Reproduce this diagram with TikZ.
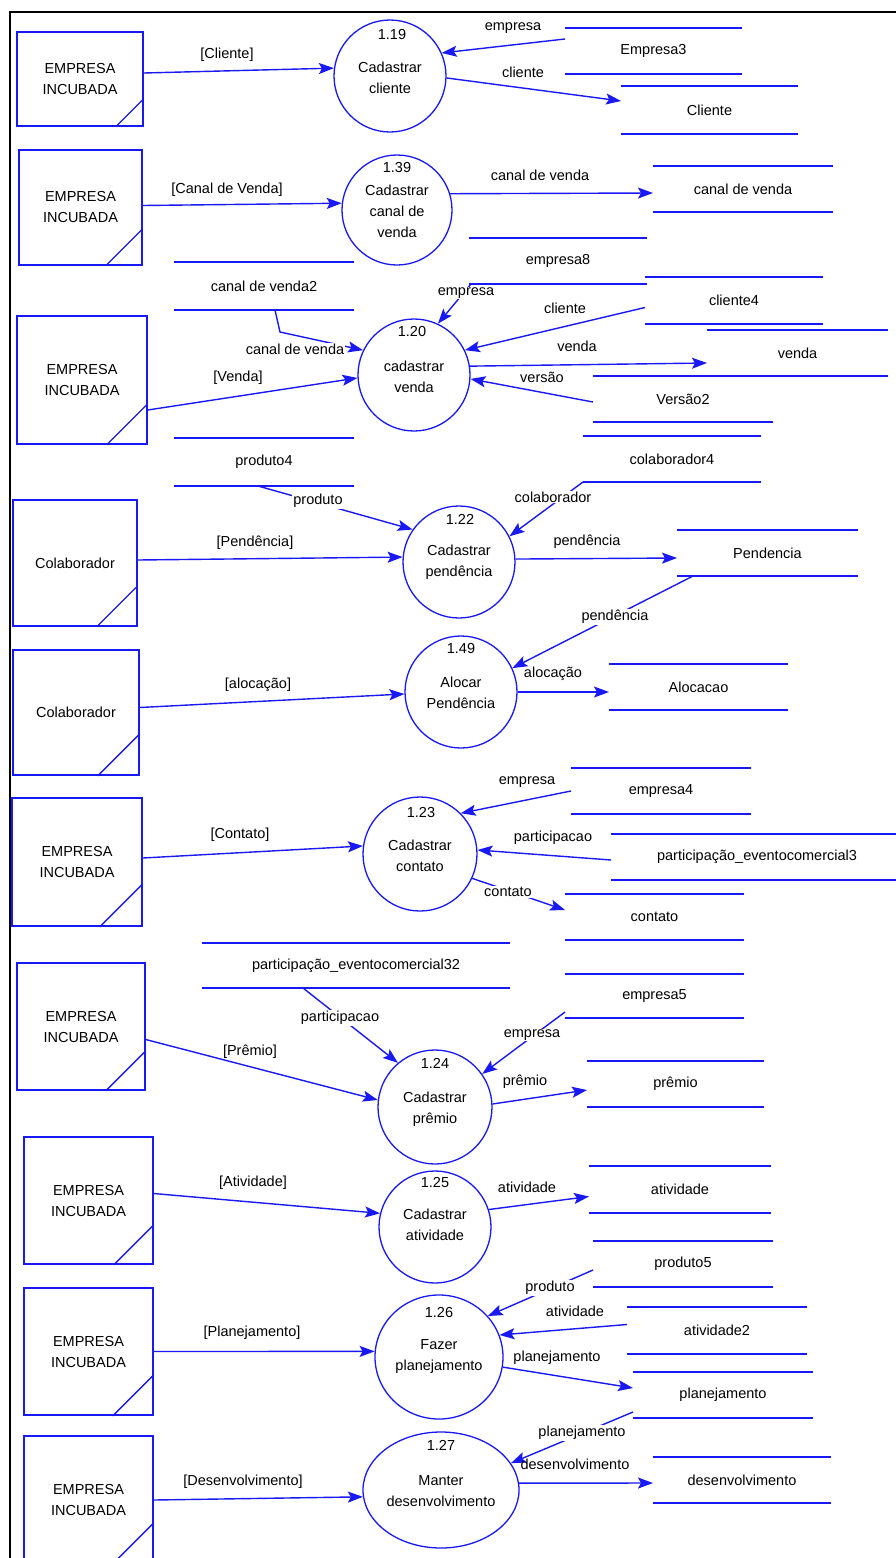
\documentclass[tikz,border=0pt]{standalone}
\usepackage{fontspec}
\setmainfont{Liberation Sans}
\usetikzlibrary{arrows.meta,calc,shapes.geometric}
\definecolor{flowblue}{RGB}{25,25,245}
\begin{document}
\begin{tikzpicture}[x=1pt,y=-1pt,
  every node/.style={font=\fontsize{14.5}{21}\selectfont, inner sep=0pt},
  entity/.style={draw=flowblue, line width=1.5pt, rectangle, align=center},
  process/.style={draw=flowblue, line width=1.3pt, ellipse},
  ptext/.style={align=center},
  store/.style={rectangle, draw=none, outer sep=0pt},
  lbl/.style={inner sep=1pt},
  lblw/.style={lbl, fill=white},
  flow/.style={draw=flowblue, line width=1.4pt, -{Stealth[length=15pt,width=11pt,inset=3pt]}},
  rule/.style={draw=flowblue, line width=1.4pt}]

\useasboundingbox (0,0) rectangle (896,1558);
\fill[white] (0,0) rectangle (896,1558);

% outer frame
\draw[line width=2.5pt] (10,1558) -- (10,12) -- (896,12);

% ---------- external entities ----------
\node[entity, minimum width=126pt, minimum height=94pt]  (e1)  at (80,79)      {EMPRESA\\INCUBADA};
\node[entity, minimum width=123pt, minimum height=115pt] (e2)  at (80.5,207.5) {EMPRESA\\INCUBADA};
\node[entity, minimum width=130pt, minimum height=128pt] (e3)  at (82,380)     {EMPRESA\\INCUBADA};
\node[entity, minimum width=124pt, minimum height=126pt] (e4)  at (75,563)     {Colaborador};
\node[entity, minimum width=126pt, minimum height=125pt] (e5)  at (76,712.5)   {Colaborador};
\node[entity, minimum width=130pt, minimum height=128pt] (e6)  at (77,862)     {EMPRESA\\INCUBADA};
\node[entity, minimum width=128pt, minimum height=127pt] (e7)  at (81,1026.5)  {EMPRESA\\INCUBADA};
\node[entity, minimum width=129pt, minimum height=127pt] (e8)  at (88.5,1200.5){EMPRESA\\INCUBADA};
\node[entity, minimum width=129pt, minimum height=127pt] (e9)  at (88.5,1351.5){EMPRESA\\INCUBADA};
\node[entity, minimum width=129pt, minimum height=128pt] (e10) at (88.5,1500)  {EMPRESA\\INCUBADA};

% corner marks of the entities
\foreach \e/\d in {e1/28,e2/37,e3/41,e4/41,e5/42,e6/43,e7/40,e8/40,e9/41,e10/42}
  \draw[rule] ($(\e.south east)+(0,-\d)$) -- ($(\e.south east)+(-\d,0)$);

% ---------- processes ----------
\node[process, minimum width=112pt, minimum height=112pt] (p119) at (390,76)   {};
\node[process, minimum width=110pt, minimum height=110pt] (p139) at (397,210)  {};
\node[process, minimum width=112pt, minimum height=112pt] (p120) at (414,375)  {};
\node[process, minimum width=112pt, minimum height=112pt] (p122) at (459,562)  {};
\node[process, minimum width=112pt, minimum height=112pt] (p149) at (461,692)  {};
\node[process, minimum width=114pt, minimum height=114pt] (p123) at (420,854)  {};
\node[process, minimum width=114pt, minimum height=114pt] (p124) at (435,1107) {};
\node[process, minimum width=112pt, minimum height=112pt] (p125) at (435,1227) {};
\node[process, minimum width=128pt, minimum height=124pt] (p126) at (439,1357) {};
\node[process, minimum width=156pt, minimum height=116pt] (p127) at (441,1490) {};

\node (p119n) at (392,35)   {1.19};
\node[ptext] (p119t) at (390,77.5)  {Cadastrar\\cliente};
\node (p139n) at (397,168)  {1.39};
\node[ptext] (p139t) at (397,211.5) {Cadastrar\\canal de\\venda};
\node (p120n) at (412,332)  {1.20};
\node[ptext] (p120t) at (414,377)   {cadastrar\\venda};
\node (p122n) at (460,519)  {1.22};
\node[ptext] (p122t) at (459,562.5) {Cadastrar\\pendência};
\node (p149n) at (461,648)  {1.49};
\node[ptext] (p149t) at (461,692.5) {Alocar\\Pendência};
\node (p123n) at (421,812)  {1.23};
\node[ptext] (p123t) at (420,856)   {Cadastrar\\contato};
\node (p124n) at (435,1063) {1.24};
\node[ptext] (p124t) at (435,1109)  {Cadastrar\\prêmio};
\node (p125n) at (435,1182) {1.25};
\node[ptext] (p125t) at (435,1225)  {Cadastrar\\atividade};
\node (p126n) at (439,1312) {1.26};
\node[ptext] (p126t) at (439,1356.5){Fazer\\planejamento};
\node (p127n) at (441,1445) {1.27};
\node[ptext] (p127t) at (441,1491)  {Manter\\desenvolvimento};

% ---------- data stores ----------
\node[store, minimum width=177pt, minimum height=46pt] (s1)  at (653.5,51)    {Empresa3};
\node[store, minimum width=177pt, minimum height=48pt] (s2)  at (709.5,110)   {Cliente};
\node[store, minimum width=180pt, minimum height=46pt] (s3)  at (743,189)     {canal de venda};
\node[store, minimum width=178pt, minimum height=46pt] (s4)  at (558,261)     {empresa8};
\node[store, minimum width=180pt, minimum height=48pt] (s5)  at (264,286)     {canal de venda2};
\node[store, minimum width=178pt, minimum height=47pt] (s6)  at (734,300.5)   {cliente4};
\node[store, minimum width=181pt, minimum height=46pt] (s7)  at (797.5,353)   {venda};
\node[store, minimum width=180pt, minimum height=46pt] (s8)  at (683,399)     {Versão2};
\node[store, minimum width=180pt, minimum height=48pt] (s9)  at (264,462)     {produto4};
\node[store, minimum width=178pt, minimum height=46pt] (s10) at (672,459)     {colaborador4};
\node[store, minimum width=181pt, minimum height=46pt] (s11) at (767.5,553)   {Pendencia};
\node[store, minimum width=179pt, minimum height=46pt] (s12) at (698.5,687)   {Alocacao};
\node[store, minimum width=180pt, minimum height=46pt] (s13) at (661,791)     {empresa4};
\node[store, minimum width=292pt, minimum height=46pt] (s14) at (757,857)     {participação\_eventocomercial3};
\node[store, minimum width=179pt, minimum height=46pt] (s15) at (654.5,917)   {contato};
\node[store, minimum width=308pt, minimum height=45pt] (s16) at (356,965.5)   {participação\_eventocomercial32};
\node[store, minimum width=179pt, minimum height=44pt] (s17) at (654.5,996)   {empresa5};
\node[store, minimum width=177pt, minimum height=46pt] (s18) at (675.5,1084)  {prêmio};
\node[store, minimum width=182pt, minimum height=47pt] (s19) at (680,1189.5)  {atividade};
\node[store, minimum width=180pt, minimum height=46pt] (s20) at (683,1264)    {produto5};
\node[store, minimum width=180pt, minimum height=47pt] (s21) at (717,1330.5)  {atividade2};
\node[store, minimum width=180pt, minimum height=46pt] (s22) at (723,1395)    {planejamento};
\node[store, minimum width=178pt, minimum height=46pt] (s23) at (742,1480)    {desenvolvimento};

\foreach \s in {s1,s2,s3,s4,s5,s6,s7,s8,s9,s10,s11,s12,s13,s14,s15,s16,s17,s18,s19,s20,s21,s22,s23}
  \draw[rule] (\s.north west) -- (\s.north east) (\s.south west) -- (\s.south east);

% ---------- data flows ----------
\draw[flow] ([yshift=6pt]e1.east) -- (p119.172);
\draw[flow] ([yshift=12pt]s1.west) -- (p119.24);
\draw[flow] (p119.-2) -- ([yshift=9pt]s2.west);

\draw[flow] ([yshift=2pt]e2.east) -- (p139.173);
\draw[flow] (p139.17) -- ([yshift=-4pt]s3.west);

\draw[flow] ([xshift=11pt]s5.south) -- ++(5,22) -- (p120.154);
\draw[flow] ([yshift=-30pt]e3.east) -- (p120.183);
\draw[flow] ([xshift=2pt]s4.south west) -- (p120.65);
\draw[flow] ([yshift=-7pt]s6.west) -- (p120.26);
\draw[flow] (p120.9) -- ([yshift=-10pt]s7.west);
\draw[flow] ([yshift=-3pt]s8.west) -- (p120.-4);

\draw[flow] ([xshift=-6pt]s9.south) -- (p122.145);
\draw[flow] (s10.south west) -- (p122.27);
\draw[flow] ([yshift=3pt]e4.east) -- (p122.175);
\draw[flow] (p122.3) -- ([yshift=-5pt]s11.west);

\draw[flow] ([xshift=16pt]s11.south west) -- (p149.25);
\draw[flow] ([yshift=5pt]e5.east) -- (p149.182);
\draw[flow] (p149.0) -- ([yshift=-5pt]s12.west);

\draw[flow] ([yshift=4pt]e6.east) -- (p123.172);
\draw[flow] (s13.west) -- (p123.45);
\draw[flow] ([yshift=-3pt]s14.west) -- (p123.4);
\draw[flow] (p123.-25) -- ([yshift=7pt]s15.west);

\draw[flow] ([xshift=-53pt]s16.south) -- (p124.130);
\draw[flow] ([yshift=6pt]s17.south west) -- (p124.35);
\draw[flow] ([yshift=-13pt]e7.east) -- (p124.173);
\draw[flow] (p124.3) -- ([yshift=-6pt]s18.west);

\draw[flow] ([yshift=7pt]e8.east) -- (p125.166);
\draw[flow] (p125.18) -- ([yshift=-7pt]s19.west);

\draw[flow] (e9.east) -- (p126.175);
\draw[flow] ([yshift=-6pt]s20.west) -- (p126.40);
\draw[flow] ([yshift=6pt]s21.west) -- (p126.20);
\draw[flow] (p126.-9) -- ([yshift=7pt]s22.west);

\draw[flow] ([yshift=6pt]s22.south west) -- (p127.21);
\draw[flow] (e10.east) -- (p127.185);
\draw[flow] (p127.5) -- ([yshift=-3pt]s23.west);

% ---------- flow labels ----------
\node[lbl]  (l1)  at (227,55)   {[Cliente]};
\node[lbl]  (l2)  at (513,28)   {empresa};
\node[lbl]  (l3)  at (523,72)   {cliente};
\node[lbl]  (l4)  at (227,190)  {[Canal de Venda]};
\node[lbl]  (l5)  at (540,175)  {canal de venda};
\node[lblw] (l6)  at (295,349)  {canal de venda};
\node[lbl]  (l7)  at (238,378)  {[Venda]};
\node[lblw] (l8)  at (466,293)  {empresa};
\node[lbl]  (l9)  at (565,308)  {cliente};
\node[lbl]  (l10) at (577,346)  {venda};
\node[lbl]  (l11) at (542,377)  {versão};
\node[lblw] (l12) at (318,501)  {produto};
\node[lblw] (l13) at (553,497)  {colaborador};
\node[lbl]  (l14) at (255,543)  {[Pendência]};
\node[lbl]  (l15) at (587,542)  {pendência};
\node[lblw] (l16) at (615,617)  {pendência};
\node[lbl]  (l17) at (258,685)  {[alocação]};
\node[lbl]  (l18) at (553,674)  {alocação};
\node[lbl]  (l19) at (240,835)  {[Contato]};
\node[lbl]  (l20) at (527,782)  {empresa};
\node[lbl]  (l21) at (553,838)  {participacao};
\node[lblw] (l22) at (508,892)  {contato};
\node[lblw] (l23) at (340,1018) {participacao};
\node[lblw] (l24) at (532,1035) {empresa};
\node[lbl]  (l25) at (250,1052) {[Prêmio]};
\node[lbl]  (l26) at (525,1082) {prêmio};
\node[lbl]  (l27) at (253,1183) {[Atividade]};
\node[lbl]  (l28) at (527,1187) {atividade};
\node[lbl]  (l29) at (252,1333) {[Planejamento]};
\node[lblw] (l30) at (550,1288) {produto};
\node[lbl]  (l31) at (575,1311) {atividade};
\node[lbl]  (l32) at (557,1358) {planejamento};
\node[lblw] (l33) at (582,1433) {planejamento};
\node[lbl]  (l34) at (243,1482) {[Desenvolvimento]};
\node[lbl]  (l35) at (575,1464) {desenvolvimento};
\end{tikzpicture}
\end{document}
